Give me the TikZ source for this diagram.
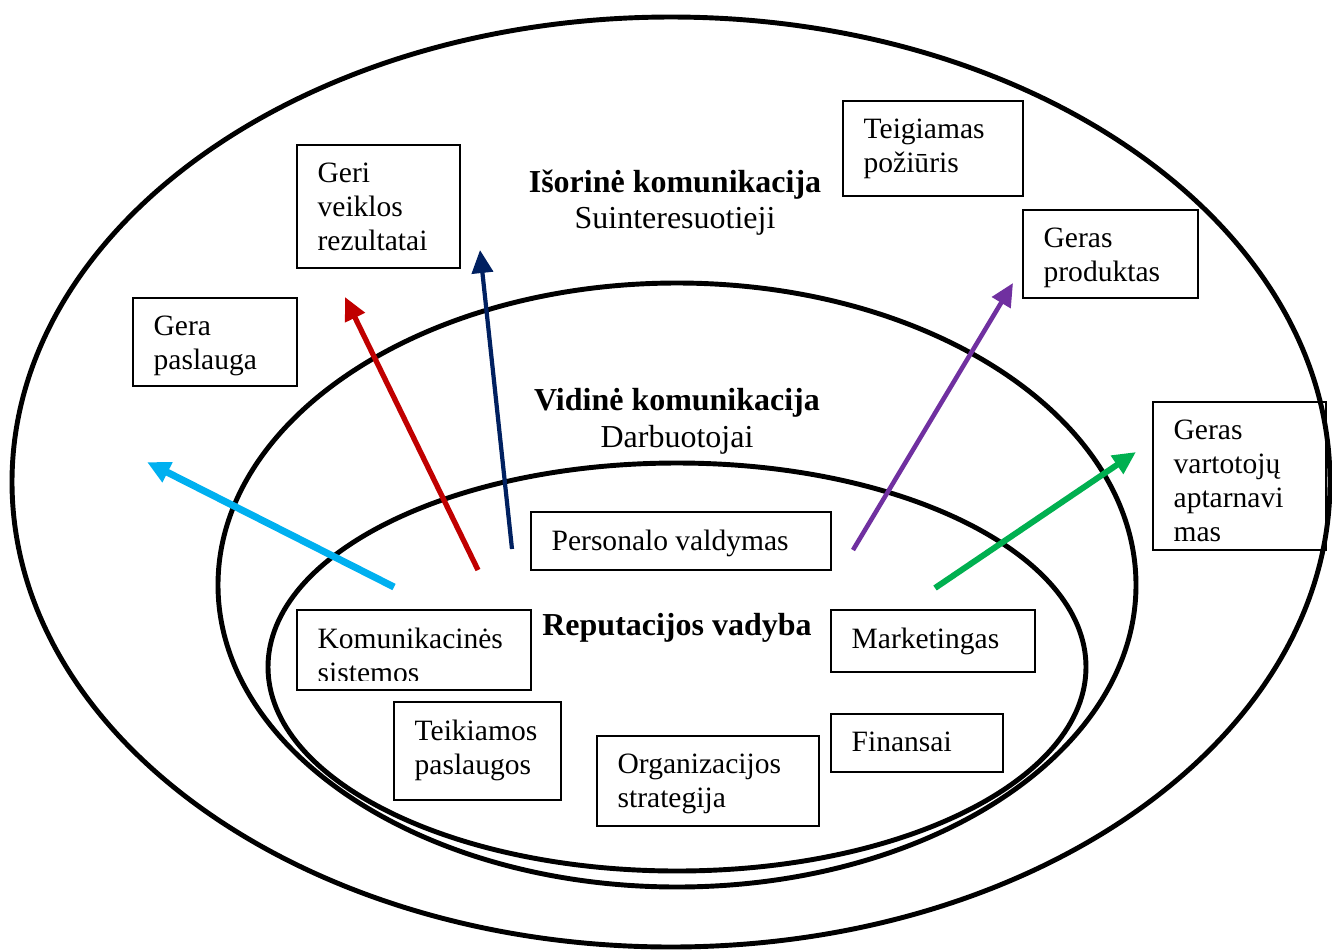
\documentclass[tikz,border=0pt]{standalone}
\usepackage{fontspec}
\setmainfont{Liberation Serif}
\usetikzlibrary{arrows.meta,calc,fit}
\definecolor{acyan}{RGB}{0,176,240}
\definecolor{ared}{RGB}{192,0,0}
\definecolor{anavy}{RGB}{0,32,96}
\definecolor{apurple}{RGB}{112,48,160}
\definecolor{agreen}{RGB}{0,176,80}
\begin{document}
\begin{tikzpicture}[x=0.1mm,y=-0.1mm,
 ring/.style={draw=black, line width=1.4pt},
 box/.style={draw=black, line width=0.6pt, inner sep=0pt},
 txt/.style={font=\fontsize{8.4}{9.7}\selectfont, align=left, inner sep=0pt, anchor=north west},
 ttl/.style={font=\fontsize{9.1}{10.4}\selectfont, inner sep=0pt, anchor=base},
 bttl/.style={ttl, font=\fontsize{9.1}{10.4}\selectfont\bfseries},
 arr/.style={-{Triangle[length=2.3mm,width=2.1mm]}}]

\useasboundingbox (0,0) rectangle (1332,951);

% rings
\draw[ring] (671,482) ellipse [x radius=65.9mm, y radius=46.5mm];
\draw[ring] (677,585) ellipse [x radius=45.9mm, y radius=30.2mm];
\draw[ring] (677,667) ellipse [x radius=40.9mm, y radius=20.4mm];

% titles
\node[bttl] (isor) at (675,192) {Išorinė komunikacija};
\node[ttl] (suint) at (675,228) {Suinteresuotieji};
\node[bttl] (vid) at (677,410) {Vidinė komunikacija};
\node[ttl] (darb) at (677,447) {Darbuotojai};
\node[bttl] (rep) at (677,635) {Reputacijos vadyba};

% outer boxes
\node[box, fit={(297,145) (460,268)}] (geri) {};
\node[txt] (geri-t) at ($(geri.north west)+(21,18)$) {Geri\\veiklos\\rezultatai};
\node[box, fit={(843,101) (1023,196)}] (teig) {};
\node[txt] (teig-t) at ($(teig.north west)+(21,18)$) {Teigiamas\\požiūris};
\node[box, fit={(1023,210) (1198,298)}] (prod) {};
\node[txt] (prod-t) at ($(prod.north west)+(21,18)$) {Geras\\produktas};
\node[box, fit={(133,298) (297,386)}] (pasl) {};
\node[txt] (pasl-t) at ($(pasl.north west)+(21,18)$) {Gera\\paslauga};
\node[box, fit={(1153,402) (1326,550)}] (vart) {};
\begin{scope}
\clip (1153,402) rectangle (1326,542);
\node[txt] (vart-t) at ($(vart.north west)+(21,18)$) {Geras\\vartotojų\\aptarnavi\\mas};
\end{scope}

% inner boxes
\node[box, fit={(531,512) (831,570)}] (pers) {};
\node[txt] (pers-t) at ($(pers.north west)+(21,18)$) {Personalo valdymas};
\node[box, fit={(297,610) (531,690)}] (kom) {};
\begin{scope}
\clip (297,610) rectangle (531,680);
\node[txt] (kom-t) at ($(kom.north west)+(21,18)$) {Komunikacinės\\sistemos};
\end{scope}
\node[box, fit={(831,610) (1035,672)}] (mark) {};
\node[txt] (mark-t) at ($(mark.north west)+(21,18)$) {Marketingas};
\node[box, fit={(394,702) (561,800)}] (teik) {};
\node[txt] (teik-t) at ($(teik.north west)+(21,18)$) {Teikiamos\\paslaugos};
\node[box, fit={(597,736) (819,826)}] (org) {};
\node[txt] (org-t) at ($(org.north west)+(21,18)$) {Organizacijos\\strategija};
\node[box, fit={(831,714) (1003,772)}] (fin) {};
\node[txt] (fin-t) at ($(fin.north west)+(21,18)$) {Finansai};

% arrows
\coordinate (c1) at (394,587); \coordinate (c2) at (147,462);
\coordinate (r1) at (478,570); \coordinate (r2) at (345,297);
\coordinate (n1) at (512,549); \coordinate (n2) at (480,250);
\coordinate (p1) at (853,550); \coordinate (p2) at (1013,283);
\coordinate (g1) at (935,588); \coordinate (g2) at (1136,452);
\draw[arr, draw=acyan, fill=acyan, line width=2pt] (c1) -- (c2);
\draw[arr, draw=ared, fill=ared, line width=1.5pt] (r1) -- (r2);
\draw[arr, draw=anavy, fill=anavy, line width=1.2pt] (n1) -- (n2);
\draw[arr, draw=apurple, fill=apurple, line width=1.3pt] (p1) -- (p2);
\draw[arr, draw=agreen, fill=agreen, line width=1.7pt] (g1) -- (g2);
\end{tikzpicture}
\end{document}
